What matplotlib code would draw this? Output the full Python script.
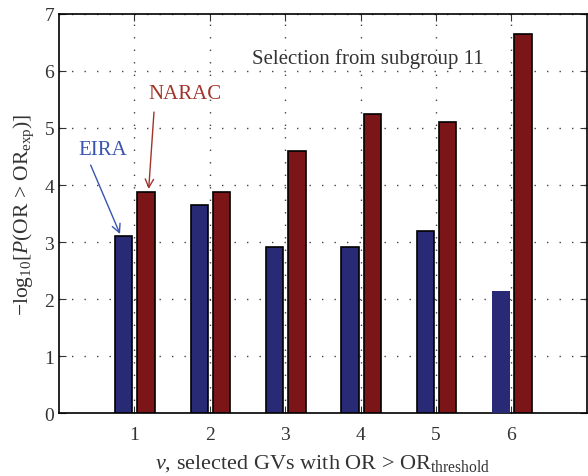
import matplotlib
matplotlib.use("Agg")
import matplotlib.pyplot as plt
import numpy as np

categories = [1, 2, 3, 4, 5, 6]
eira = [3.11, 3.65, 2.91, 2.91, 3.20, 2.14]
narac = [3.88, 3.87, 4.60, 5.25, 5.10, 6.65]

plt.rcParams['font.family'] = ['Liberation Serif', 'DejaVu Serif']
plt.rcParams['mathtext.fontset'] = 'custom'
plt.rcParams['mathtext.rm'] = 'Liberation Serif'
plt.rcParams['mathtext.it'] = 'Liberation Serif:italic'
plt.rcParams['mathtext.bf'] = 'Liberation Serif:bold'

fig = plt.figure(figsize=(5.88, 4.77), dpi=100)
ax = fig.add_axes([0.1003, 0.132, 0.8977, 0.8366])

x = np.array(categories, dtype=float)
blue_edges = ['black'] * 5 + ['none']
ax.bar(x - 0.14, eira, width=0.23, color='#282a76', edgecolor=blue_edges, linewidth=1.2, zorder=3)
ax.bar(x + 0.155, narac, width=0.23, color='#7c1517', edgecolor='black', linewidth=1.2, zorder=3)

ax.set_xlim(0, 7)
ax.set_ylim(0, 7)
ax.set_xticks(categories)
ax.set_yticks(range(0, 8))
ax.grid(True, linestyle=(0, (1, 8)), color='#444444', linewidth=1.0, zorder=0)
ax.set_axisbelow(True)
ax.tick_params(direction='in', top=True, right=True, labelsize=14, length=5, colors='#333333', labelcolor='#333333')
ax.tick_params(axis='x', pad=9)
for s in ax.spines.values():
    s.set_linewidth(1.2)
    s.set_color('black')

ax.set_xlabel(r'$v$, selected GVs with OR > OR$_{\mathrm{threshold}}$', fontsize=16, color='#333333', labelpad=7)
ax.set_ylabel(r'$-$log$_{10}$[$P$(OR > OR$_{\mathrm{exp}}$)]', fontsize=15.5, color='#333333', labelpad=6)

ax.text(0.585, 0.89, 'Selection from subgroup 11', transform=ax.transAxes, ha='center', va='center', fontsize=15, color='#333333')

ax.text(0.58, 4.62, 'EIRA', fontsize=15, color='#3a55b0', ha='center', va='center')
ax.annotate('', xy=(0.81, 3.14), xytext=(0.42, 4.35),
            arrowprops=dict(arrowstyle='->,head_length=0.6,head_width=0.3', color='#3a55b0', lw=1.0, shrinkA=0, shrinkB=0))
ax.text(1.67, 5.6, 'NARAC', fontsize=15, color='#a0352b', ha='center', va='center')
ax.annotate('', xy=(1.19, 3.93), xytext=(1.26, 5.28),
            arrowprops=dict(arrowstyle='->,head_length=0.6,head_width=0.3', color='#a0352b', lw=1.0, shrinkA=0, shrinkB=0))

fig.savefig('out.png', dpi=100)
